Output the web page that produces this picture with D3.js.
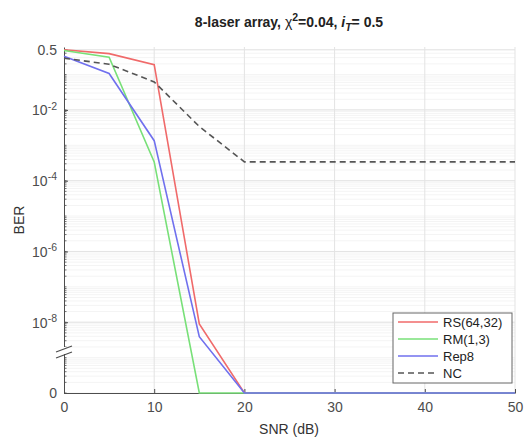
<!DOCTYPE html>
<html><head><meta charset="utf-8">
<script src="https://cdn.jsdelivr.net/npm/d3@7"></script>
<style>body{margin:0;background:#fff}svg{display:block}text{font-family:"Liberation Sans",Arial,sans-serif}</style>
</head><body><svg id="c" width="525" height="440"></svg>
<script>
const snr = [0,5,10,15,20,25,30,35,40,45,50];
const rs  = [0.5, 0.39, 0.19, 9e-9, 0, 0, 0, 0, 0, 0, 0];
const rm  = [0.48, 0.31, 3.4e-4, 0, 0, 0, 0, 0, 0, 0, 0];
const rep = [0.33, 0.107, 1.35e-3, 3.9e-9, 0, 0, 0, 0, 0, 0, 0];
const nc  = [0.29, 0.195, 0.062, 3.4e-3, 3.4e-4, 3.4e-4, 3.4e-4, 3.4e-4, 3.4e-4, 3.4e-4, 3.4e-4];
const seriesNames = ["RS(64,32)","RM(1,3)","Rep8","NC"];
const xTicks = [0,10,20,30,40,50];
const yTickVals = [0.5, 1e-2, 1e-4, 1e-6, 1e-8, 0];
const yTickLabels = [["0.5",""],["10","-2"],["10","-4"],["10","-6"],["10","-8"],["0",""]];
const ZERO = 1e-10;

const svg = d3.select("#c");
const L=64, R=515, T=47, B=393;
const x = d3.scaleLinear().domain([0,50]).range([L,R]);
const y = d3.scaleLog().domain([ZERO,0.6]).range([B,T]);
const yv = v => y(v<=0?ZERO:v);
const axisCol="#4d4d4d";

// minor grid
const minor=[];
for(let k=-10;k<=-1;k++) for(let m=1;m<=9;m++){const v=m*Math.pow(10,k); if(v>=ZERO && v<=0.6) minor.push(v);}
svg.append("g").selectAll("line").data(minor).join("line")
  .attr("x1",L).attr("x2",R).attr("y1",d=>y(d)).attr("y2",d=>y(d))
  .attr("stroke","#f4f4f4").attr("stroke-width",1);
// major grid
svg.append("g").selectAll("line").data([1e-8,1e-6,1e-4,1e-2,0.5]).join("line")
  .attr("x1",L).attr("x2",R).attr("y1",d=>y(d)).attr("y2",d=>y(d))
  .attr("stroke","#e3e3e3").attr("stroke-width",1);
svg.append("g").selectAll("line").data(xTicks.slice(1)).join("line")
  .attr("x1",d=>x(d)).attr("x2",d=>x(d)).attr("y1",T).attr("y2",B)
  .attr("stroke","#e3e3e3").attr("stroke-width",1);

// axes
const xAxis = d3.axisBottom(x).tickValues(xTicks).tickSize(0).tickPadding(9).tickFormat(d3.format("d"));
const gx = svg.append("g").attr("transform",`translate(0,${B})`).call(xAxis);
gx.select(".domain").attr("stroke",axisCol);
gx.selectAll("text").attr("fill",axisCol).attr("font-size",14);
gx.selectAll(".tick").append("line").attr("y1",0).attr("y2",-4).attr("stroke",axisCol);

const yAxis = d3.axisLeft(y).tickValues(yTickVals.map(v=>v<=0?ZERO:v)).tickSize(0).tickPadding(6).tickFormat("");
const gy = svg.append("g").attr("transform",`translate(${L},0)`).call(yAxis);
gy.select(".domain").attr("stroke",axisCol);
gy.selectAll(".tick").each(function(d,i){
  const t=d3.select(this).append("text").attr("x",-7).attr("dy","0.35em")
    .attr("text-anchor","end").attr("fill",axisCol).attr("font-size",14);
  const lab=yTickLabels[i];
  t.append("tspan").text(lab[0]);
  if(lab[1]) t.append("tspan").attr("dy","-0.55em").attr("font-size",10.5).text(lab[1]);
  d3.select(this).append("line").attr("x1",0).attr("x2",4).attr("stroke",axisCol);
});
// minor y ticks
gy.append("g").selectAll("line").data(minor).join("line")
  .attr("x1",0).attr("x2",2.5).attr("y1",d=>y(d)).attr("y2",d=>y(d)).attr("stroke",axisCol).attr("stroke-width",0.8);

// axis break
const by=352;
svg.append("rect").attr("x",L-1).attr("y",by-5).attr("width",3).attr("height",7).attr("fill","#fff");
[[-3],[3]].forEach(([o])=>{
  svg.append("line").attr("x1",L-8).attr("y1",by+o+3).attr("x2",L+8).attr("y2",by+o-3)
    .attr("stroke",axisCol).attr("stroke-width",1.2);
});

// lines
const series=[rs,rm,rep,nc];
const colors=["#f06a6a","#78e078","#7070ee","#555555"];
const dashes=[null,null,null,"6,4"];
const line=d3.line().x((d,i)=>x(snr[i])).y(d=>yv(d));
series.forEach((s,k)=>{
  svg.append("path").datum(s).attr("d",line).attr("fill","none")
    .attr("stroke",colors[k]).attr("stroke-width",1.6).attr("stroke-dasharray",dashes[k]);
});

// legend
const lg=svg.append("g");
lg.append("rect").attr("x",393).attr("y",313).attr("width",119).attr("height",70)
  .attr("fill","#fff").attr("stroke","#666").attr("stroke-width",1);
seriesNames.forEach((n,k)=>{
  const ly=322+k*17;
  lg.append("line").attr("x1",398).attr("x2",438).attr("y1",ly).attr("y2",ly)
    .attr("stroke",colors[k]).attr("stroke-width",1.6).attr("stroke-dasharray",dashes[k]);
  lg.append("text").attr("x",443).attr("y",ly).attr("dy","0.35em").attr("font-size",13)
    .attr("fill","#222").text(n);
});

// labels
svg.append("text").attr("x",289).attr("y",434).attr("text-anchor","middle").attr("font-size",14)
  .attr("fill","#333").text("SNR (dB)");
svg.append("text").attr("transform","translate(24,220) rotate(-90)").attr("text-anchor","middle")
  .attr("font-size",14).attr("fill","#333").text("BER");

const title=svg.append("text").attr("x",289).attr("y",27).attr("text-anchor","middle")
  .attr("font-size",14).attr("font-weight","bold").attr("fill","#222");
title.append("tspan").text("8-laser array, ");
title.append("tspan").attr("font-weight","normal").text("χ");
title.append("tspan").attr("dy",-6).attr("font-size",10.5).text("2");
title.append("tspan").attr("dy",6).text("=0.04, ");
title.append("tspan").attr("font-style","italic").text("i");
title.append("tspan").attr("dy",4).attr("font-size",10.5).attr("font-style","italic").text("T");
title.append("tspan").attr("dy",-4).text("= 0.5");
</script></body></html>
